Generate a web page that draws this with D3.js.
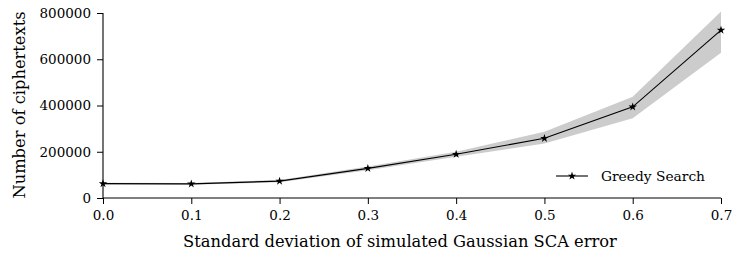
<!DOCTYPE html>
<html>
<head>
<meta charset="utf-8">
<script src="https://cdn.jsdelivr.net/npm/d3@7.9.0/dist/d3.min.js"></script>
<style>
  body { margin: 0; background: #fff; }
  text { font-family: "DejaVu Serif", serif; fill: #000; }
</style>
</head>
<body>
<svg id="chart" width="734" height="253"></svg>
<script>
// data
const sigma = [0.0, 0.1, 0.2, 0.3, 0.4, 0.5, 0.6, 0.7];
const ciphertexts = [62000, 61000, 73000, 128000, 189000, 258000, 394000, 726000];
const bandLow = [58000, 57000, 68000, 120000, 178000, 236000, 345000, 628000];
const bandHigh = [66000, 65000, 78000, 136000, 200000, 287000, 438000, 806000];
const xTicks = [0.0, 0.1, 0.2, 0.3, 0.4, 0.5, 0.6, 0.7];
const yTicks = [0, 200000, 400000, 600000, 800000];

const svg = d3.select('#chart');
const margin = { left: 103, right: 13, top: 13, bottom: 55 };
const width = 734, height = 253;

let x = d3.scaleLinear().domain([0, 0.7]).range([margin.left, width - margin.right]);
let y = d3.scaleLinear().domain([0, 800000]).range([height - margin.bottom, margin.top]);

let rows = sigma.map((s, i) => ({ s, v: ciphertexts[i], lo: bandLow[i], hi: bandHigh[i] }));

// shaded spread
let area = d3.area().x(d => x(d.s)).y0(d => y(d.lo)).y1(d => y(d.hi));
svg.append('path')
   .attr('d', area(rows))
   .attr('fill', '#cccccc');

// mean line
let line = d3.line().x(d => x(d.s)).y(d => y(d.v));
svg.append('path')
   .attr('d', line(rows))
   .attr('fill', 'none')
   .attr('stroke', '#000')
   .attr('stroke-width', 1.1);

let star = d3.symbol().type(d3.symbolStar).size(22);
svg.selectAll('.pt')
   .data(rows)
   .join('path')
   .attr('class', 'pt')
   .attr('d', star)
   .attr('transform', d => `translate(${x(d.s)},${y(d.v)})`)
   .attr('fill', '#000');

// axes
let xAxis = d3.axisBottom(x).tickValues(xTicks).tickFormat(d3.format('.1f')).tickSize(6).tickPadding(6);
let yAxis = d3.axisLeft(y).tickValues(yTicks).tickFormat(d3.format('d')).tickSize(6).tickPadding(6);

let gx = svg.append('g')
   .attr('transform', `translate(0,${height - margin.bottom})`)
   .call(xAxis);
let gy = svg.append('g')
   .attr('transform', `translate(${margin.left},0)`)
   .call(yAxis);

[gx, gy].forEach(g => {
    g.select('.domain').attr('stroke', '#000').attr('stroke-width', 1.1);
    g.selectAll('.tick line').attr('stroke', '#000').attr('stroke-width', 1);
    g.selectAll('.tick text').attr('font-family', '"DejaVu Serif", serif').attr('font-size', 13.5).attr('fill', '#000');
});
gx.select('.domain').attr('d', `M${margin.left},0H${width - margin.right}`);
gy.select('.domain').attr('d', `M0,${height - margin.bottom}V${margin.top}`);

// axis labels
svg.append('text')
   .attr('x', 400)
   .attr('y', 247)
   .attr('text-anchor', 'middle')
   .attr('font-size', 16.3)
   .text('Standard deviation of simulated Gaussian SCA error');

svg.append('text')
   .attr('transform', 'translate(25,105) rotate(-90)')
   .attr('text-anchor', 'middle')
   .attr('font-size', 16.3)
   .text('Number of ciphertexts');

// legend
let legend = svg.append('g').attr('transform', 'translate(556,176)');
legend.append('line')
      .attr('x1', 0).attr('x2', 32)
      .attr('stroke', '#000').attr('stroke-width', 1.1);
legend.append('path')
      .attr('d', star)
      .attr('transform', 'translate(16,0)')
      .attr('fill', '#000');
legend.append('text')
      .attr('x', 45)
      .attr('y', 5)
      .attr('font-size', 13.8)
      .text('Greedy Search');
</script>
</body>
</html>
